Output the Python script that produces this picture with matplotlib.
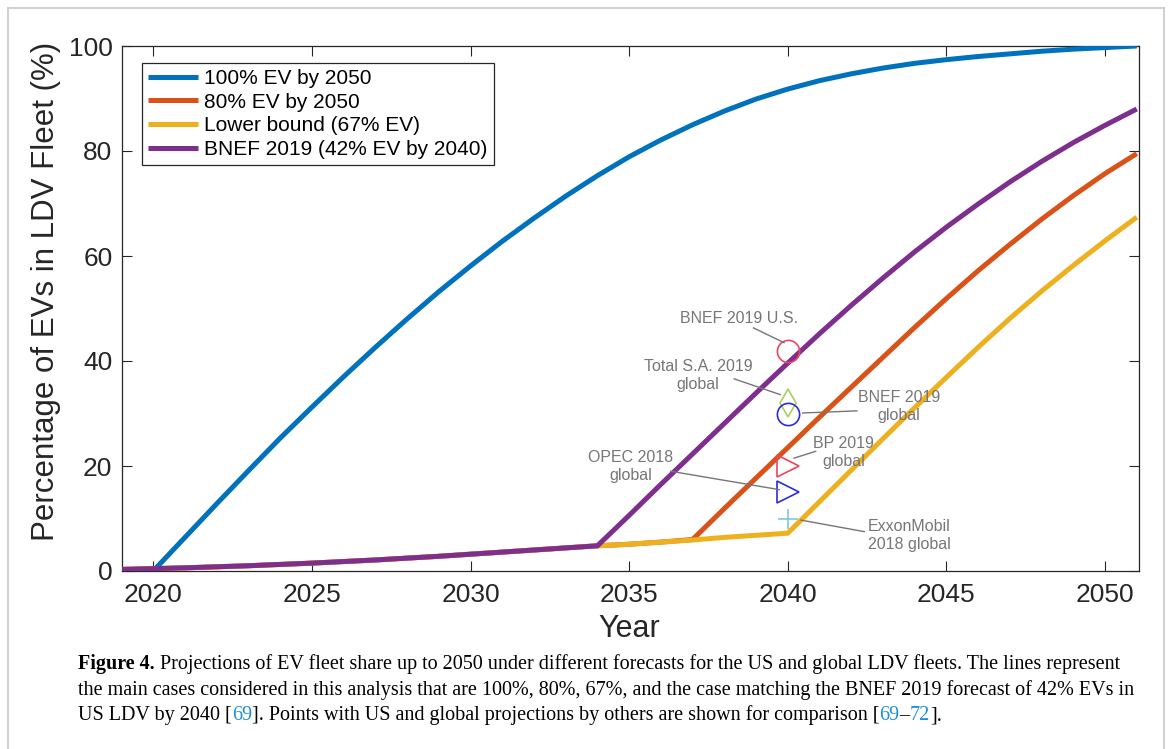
import matplotlib
matplotlib.use('Agg')
import matplotlib.pyplot as plt
from matplotlib.lines import Line2D

# ---------------- data ----------------
years = list(range(2019, 2052))
years_100 = list(range(2020, 2052))
ev_100 = [0.0, 6.4, 12.8, 19.1, 25.3, 31.2, 37.0, 42.6, 48.0, 53.2, 58.1,
          62.8, 67.2, 71.4, 75.3, 78.9, 82.1, 85.0, 87.6, 89.9, 91.8,
          93.4, 94.7, 95.8, 96.7, 97.4, 98.0, 98.5, 99.0, 99.4, 99.7, 100.0]
early = [0.3, 0.45, 0.6, 0.8, 1.0, 1.25, 1.5, 1.8, 2.1, 2.45, 2.8, 3.2, 3.6, 4.0, 4.4, 4.8]
ev_80 = early + [5.1, 5.5, 6.0, 11.9, 17.7, 23.5, 29.3, 35.0, 40.7, 46.4, 51.9,
                 57.2, 62.2, 67.0, 71.5, 75.7, 79.5]
ev_67 = early + [5.1, 5.5, 5.9, 6.4, 6.8, 7.2, 13.2, 19.2, 25.2, 31.1, 36.9,
                 42.6, 48.1, 53.3, 58.2, 62.9, 67.4]
ev_bnef = early + [10.6, 16.5, 22.3, 28.1, 33.9, 39.6, 45.2, 50.6, 55.8, 60.8,
                   65.5, 69.9, 74.1, 78.0, 81.6, 84.9, 88.0]
series_labels = ["100% EV by 2050", "80% EV by 2050", "Lower bound (67% EV)",
                 "BNEF 2019 (42% EV by 2040)"]

point_year = 2040
point_labels = ["BNEF 2019 U.S.", "Total S.A. 2019\nglobal", "BNEF 2019\nglobal",
                "BP 2019\nglobal", "OPEC 2018\nglobal", "ExxonMobil\n2018 global"]
point_values = [42, 32, 30, 20, 15, 10]

x_ticks = [2020, 2025, 2030, 2035, 2040, 2045, 2050]
y_ticks = [0, 20, 40, 60, 80, 100]

# ---------------- style ----------------
C_BLUE = '#0072BD'
C_RED = '#D95319'
C_YEL = '#EDB120'
C_PUR = '#7E2F8E'
TXT = '#262626'
SANS = ['Liberation Sans', 'DejaVu Sans']
LW = 3.6

fig = plt.figure(figsize=(11.71, 7.49), dpi=100)
W, H = 1171, 749

# light border around the whole figure
for xs, ys in [([8, 8], [749, 8]), ([8, 1164], [8, 8]), ([1164, 1164], [8, 749])]:
    fig.add_artist(Line2D([x / W for x in xs], [1 - y / H for y in ys],
                          color='#c8c8c8', lw=1.2, transform=fig.transFigure))

ax_l, ax_r, ax_t, ax_b = 121.5, 1139, 46, 571
ax = fig.add_axes([ax_l / W, 1 - ax_b / H, (ax_r - ax_l) / W, (ax_b - ax_t) / H])

ax.plot(years_100, ev_100, color=C_BLUE, lw=LW, label=series_labels[0], solid_capstyle='butt', zorder=3)
ax.plot(years, ev_80, color=C_RED, lw=LW, label=series_labels[1], solid_capstyle='butt', zorder=3)
ax.plot(years, ev_67, color=C_YEL, lw=LW, label=series_labels[2], solid_capstyle='butt', zorder=3)
ax.plot(years, ev_bnef, color=C_PUR, lw=LW, label=series_labels[3], solid_capstyle='butt', zorder=3)

# forecast points (hollow markers)
mk_styles = [('o', '#ee4466', 16), ('d', '#a9cf63', 14), ('o', '#2b2be0', 16),
             ('>', '#ee4458', 16), ('>', '#2b2be0', 16), ('+', '#7cc6e8', 14)]
for v, (m, c, ms) in zip(point_values, mk_styles):
    ax.plot([point_year], [v], linestyle='none', marker=m, markersize=ms,
            markerfacecolor='none', markeredgecolor=c, markeredgewidth=1.2, zorder=4)

# annotation text and leader lines
GRAY = '#767676'
txt_pos = [(2038.45, 48.1), (2037.17, 37.2), (2043.51, 31.35),
           (2041.75, 22.6), (2035.06, 19.85), (2043.83, 6.7)]
leaders = [((2038.92, 46.3), (2039.88, 43.5)),
           ((2038.31, 36.6), (2039.76, 33.6)),
           ((2042.18, 30.5), (2040.47, 30.1)),
           ((2040.88, 22.8), (2040.20, 21.5)),
           ((2036.31, 19.0), (2039.73, 15.5)),
           ((2042.41, 7.5), (2040.41, 9.7))]
for lab, (tx, ty), (p0, p1) in zip(point_labels, txt_pos, leaders):
    ax.text(tx, ty, lab, ha='center', va='center', fontsize=11.5, color=GRAY,
            family=SANS, linespacing=1.25, zorder=5)
    ax.plot([p0[0], p1[0]], [p0[1], p1[1]], color=GRAY, lw=1.0, zorder=5)

ax.set_xlim(2019, 2051.07)
ax.set_ylim(0, 100)
ax.set_xticks(x_ticks)
ax.set_yticks(y_ticks)
ax.tick_params(direction='in', length=7, width=0.8, top=True, right=True,
               labelsize=19, colors=TXT, pad=9)
ax.tick_params(axis='y', pad=6.5)
for lab in ax.get_xticklabels() + ax.get_yticklabels():
    lab.set_family(SANS)
for sp in ax.spines.values():
    sp.set_color(TXT)
    sp.set_linewidth(0.9)

ax.set_xlabel('Year', fontsize=22, family=SANS, color=TXT)
ax.set_ylabel('Percentage of EVs in LDV Fleet (%)', fontsize=22.5, family=SANS, color=TXT)
ax.xaxis.set_label_coords(0.4988, -0.082)
ax.yaxis.set_label_coords(-0.059, 0.532)

leg = ax.legend(loc='upper left', bbox_to_anchor=(0.020, 0.968), borderaxespad=0,
                prop={'family': SANS, 'size': 15}, frameon=True, fancybox=False,
                handlelength=2.4, handletextpad=0.3, labelspacing=0.22,
                borderpad=0.3, framealpha=1)
leg.get_frame().set_edgecolor(TXT)
leg.get_frame().set_linewidth(0.9)

# ---------------- caption ----------------
SERIF = ['Liberation Serif', 'DejaVu Serif']
CAP_FS = 14.5
REF_BLUE = '#1f8fd6'
renderer = fig.canvas.get_renderer()


def text_w(s, weight='normal'):
    t = fig.text(0, 0, s + '|', fontsize=CAP_FS, family=SERIF, weight=weight)
    w1 = t.get_window_extent(renderer).width
    t.remove()
    t = fig.text(0, 0, '|', fontsize=CAP_FS, family=SERIF, weight=weight)
    w2 = t.get_window_extent(renderer).width
    t.remove()
    return w1 - w2


def draw_runs(x_px, y_px, runs):
    x = x_px
    for s, weight, color in runs:
        fig.text(x / W, 1 - y_px / H, s, fontsize=CAP_FS, family=SERIF,
                 weight=weight, color=color, va='baseline', ha='left')
        x += text_w(s, weight)


K = 'black'
cap_x = 78
draw_runs(cap_x, 669, [('Figure 4.', 'bold', K),
                       (' Projections of EV fleet share up to 2050 under different forecasts for the US and global LDV fleets. The lines represent', 'normal', K)])
draw_runs(cap_x, 695, [('the main cases considered in this analysis that are 100%, 80%, 67%, and the case matching the BNEF 2019 forecast of 42% EVs in', 'normal', K)])
draw_runs(cap_x, 720, [('US LDV by 2040 [', 'normal', K), ('69', 'normal', REF_BLUE),
                       ('). Points with US and global projections by others are shown for comparison ['.replace(')', ']'), 'normal', K),
                       ('69', 'normal', REF_BLUE), ('\u2013', 'normal', K),
                       ('72', 'normal', REF_BLUE), ('].', 'normal', K)])

fig.savefig('out.png', dpi=100)
